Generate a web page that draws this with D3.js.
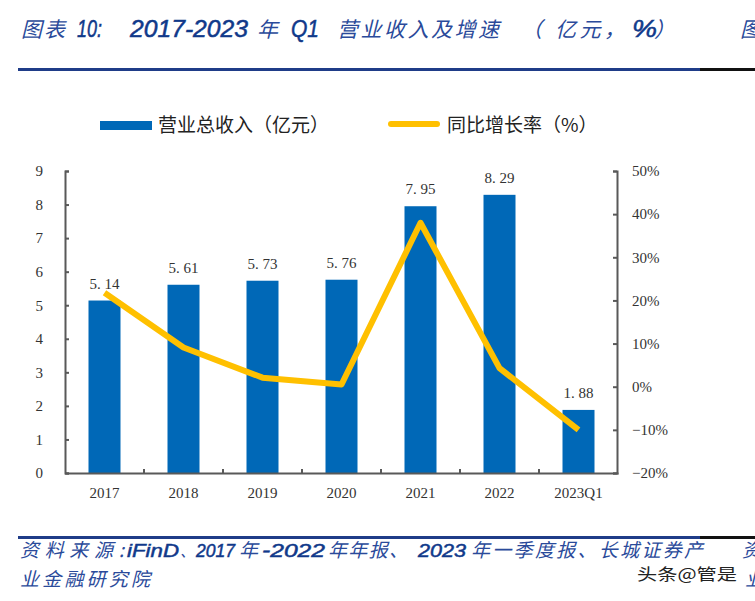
<!DOCTYPE html>
<html><head><meta charset="utf-8">
<script src="https://cdn.jsdelivr.net/npm/d3@7"></script>
<style>body{margin:0;background:#fff}svg{display:block}</style>
</head><body>
<script>
const categories = ["2017","2018","2019","2020","2021","2022","2023Q1"];
const revenue = [5.14,5.61,5.73,5.76,7.95,8.29,1.88];
const growth = [21.8,9.1,2.1,0.5,38.0,4.3,-10.0];
const leftTicks = [0,1,2,3,4,5,6,7,8,9];
const rightTicks = [-20,-10,0,10,20,30,40,50];

const W=755,H=601;
const svg=d3.select("body").append("svg").attr("width",W).attr("height",H);
const blue="#0068B7", yellow="#FFC000", axisC="#595959", titleC="#2A4A9A", numC="#10398A", ruleC="#1F3C88";
const serif="'Liberation Serif','DejaVu Serif',serif";
const cjk="'Noto Sans CJK SC','Noto Sans',sans-serif";
const lat="'Liberation Sans',Arial,sans-serif";

function seg(x,y,txt,size,opts={}){
  const el=svg.append("text").attr("x",x).attr("y",y).attr("fill",opts.num?numC:titleC)
    .attr("font-size",size).attr("font-style","italic")
    .attr("font-family",opts.num?lat:cjk).text(txt);
  if(opts.num) el.attr("stroke",numC).attr("stroke-width",0.5);
  if(opts.len) el.attr("textLength",opts.len).attr("lengthAdjust",opts.num?"spacingAndGlyphs":"spacing");
  return el;
}
// title
const ty=37;
seg(21,ty,"图表",21,{len:44});
seg(77,ty,"10:",23,{num:1,len:25});
seg(130,ty,"2017-2023",23,{num:1,len:118});
seg(257,ty,"年",21);
seg(291,ty,"Q1",23,{num:1,len:28});
seg(337,ty,"营业收入及增速",21,{len:162});
seg(521,ty,"（",21);
seg(555,ty,"亿元，",21,{len:70});
seg(632,ty,"%",23,{num:1,len:25});
seg(654,ty,"）",21);
seg(740,ty,"图",21);
svg.append("rect").attr("x",18).attr("y",68).attr("width",682).attr("height",3).attr("fill",ruleC);
svg.append("rect").attr("x",700).attr("y",68).attr("width",55).attr("height",3).attr("fill","#111");

// scales
const x=d3.scaleBand().domain(categories).range([65,618]);
const yL=d3.scaleLinear().domain([0,9]).range([473,171]);
const yR=d3.scaleLinear().domain([-20,50]).range([473,171]);
const bw=32;

// bars
svg.selectAll("rect.bar").data(revenue).join("rect").attr("class","bar")
  .attr("x",(d,i)=>x(categories[i])+x.bandwidth()/2-bw/2).attr("width",bw)
  .attr("y",d=>yL(d)).attr("height",d=>yL(0)-yL(d)).attr("fill",blue);

// labels
svg.selectAll("text.lab").data(revenue).join("text").attr("class","lab")
  .attr("x",(d,i)=>x(categories[i])+x.bandwidth()/2).attr("y",d=>yL(d)-12)
  .attr("text-anchor","middle").attr("font-family",serif).attr("font-size",15).attr("fill","#333")
  .text(d=>d.toFixed(2).replace(".",". "));

// axes
const axL=svg.append("g").attr("transform","translate(65,0)")
  .call(d3.axisLeft(yL).tickValues(leftTicks).tickSize(-4).tickPadding(22).tickFormat(d3.format("d")));
const axR=svg.append("g").attr("transform","translate(617,0)")
  .call(d3.axisRight(yR).tickValues(rightTicks).tickSize(-4).tickPadding(15).tickFormat(d=>d+"%"));
const axB=svg.append("g").attr("transform","translate(0,473)")
  .call(d3.axisBottom(x).tickSize(0).tickPadding(14));
[axL,axR,axB].forEach(g=>{
  g.select(".domain").attr("stroke",axisC).attr("stroke-width",2);
  g.selectAll(".tick line").attr("stroke",axisC).attr("stroke-width",2);
  g.selectAll("text").attr("font-family",serif).attr("font-size",15).attr("fill","#333");
});
axR.selectAll(".tick text").text(d=>(d<0?"−":"")+Math.abs(d)+"%");
// category separator ticks
svg.selectAll("line.sep").data(categories.slice(1)).join("line").attr("class","sep")
  .attr("x1",d=>x(d)).attr("x2",d=>x(d)).attr("y1",473).attr("y2",469)
  .attr("stroke",axisC).attr("stroke-width",2);

// line
const line=d3.line().x((d,i)=>x(categories[i])+x.bandwidth()/2).y(d=>yR(d));
svg.append("path").datum(growth).attr("d",line).attr("fill","none")
  .attr("stroke",yellow).attr("stroke-width",6).attr("stroke-linejoin","round");

// legend
svg.append("rect").attr("x",100).attr("y",121).attr("width",52).attr("height",9).attr("fill",blue);
svg.append("text").attr("x",158).attr("y",132).attr("font-family",cjk).attr("font-size",19).attr("fill","#222")
  .text("营业总收入（亿元）");
svg.append("line").attr("x1",391).attr("x2",437).attr("y1",124).attr("y2",124)
  .attr("stroke",yellow).attr("stroke-width",6).attr("stroke-linecap","round");
svg.append("text").attr("x",447).attr("y",132).attr("font-family",cjk).attr("font-size",19).attr("fill","#222")
  .text("同比增长率（%）");

// footer
svg.append("rect").attr("x",18).attr("y",536).attr("width",682).attr("height",3).attr("fill",ruleC);
svg.append("rect").attr("x",700).attr("y",536).attr("width",55).attr("height",3).attr("fill","#111");
const fy=557;
seg(20,fy,"资料来源:",19,{len:104});
seg(127,fy,"iFinD",19,{num:1,len:52});
seg(180,fy,"、",15);
seg(196,fy,"2017",19,{num:1,len:39});
seg(239,fy,"年",19);
seg(262,fy,"-2022",19,{num:1,len:63});
seg(328,fy,"年年报、",19,{len:80});
seg(418,fy,"2023",19,{num:1,len:48});
seg(471,fy,"年一季度报、长城证券产",19,{len:232});
seg(20,586,"业金融研究院",19,{len:130});
seg(742,fy,"资",19);
seg(745,586,"业",19);
svg.append("text").attr("x",637).attr("y",580).attr("fill","#222")
  .attr("font-size",16).attr("font-family",cjk).attr("textLength",100).attr("lengthAdjust","spacingAndGlyphs")
  .text("头条@管是");
</script>
</body></html>
